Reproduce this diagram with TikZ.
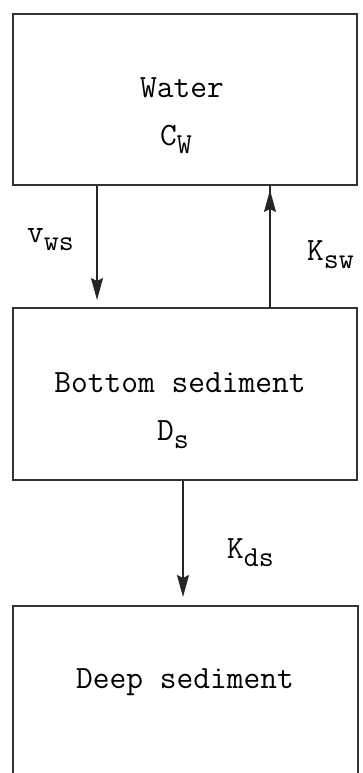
\documentclass[tikz,border=0pt]{standalone}
\usetikzlibrary{arrows.meta}

% subscript set in typewriter type, lowered below the baseline
\newcommand{\lowsub}[1]{\raisebox{-8pt}{\fontsize{29}{33}\selectfont\ttfamily #1}}

\begin{document}
\begin{tikzpicture}[x=1pt,y=1pt,
  compartment/.style={draw=black!80, line width=2pt, inner sep=0pt,
    minimum width=344pt, anchor=north west},
  lbl/.style={inner sep=0pt, anchor=base, font=\fontsize{32.5}{37}\selectfont\ttfamily},
  flow/.style={draw=black!85, line width=1.7pt,
    -{Stealth[length=22pt,width=12pt,inset=3pt]}}
]
\useasboundingbox (0,0) rectangle (363,-773);

% compartments
\node[compartment, minimum height=171pt] (water)  at (12,-13)  {};
\node[compartment, minimum height=172pt] (bottom) at (12,-307) {};
\node[compartment, minimum height=200pt, minimum width=345pt] (deep) at (12,-605) {};

% compartment labels
\node[lbl] (wname)  at (182,-98)  {Water};
\node[lbl] (wconc)  at (176,-145) {C\lowsub{W}};
\node[lbl] (bname)  at (180,-392) {Bottom sediment};
\node[lbl] (bconc)  at (173,-440) {D\lowsub{s}};
\node[lbl] (dname)  at (185,-688) {Deep sediment};

% exchange fluxes
\coordinate (wsA) at ([xshift=85pt]water.south west);
\coordinate (wsB) at ([xshift=85pt,yshift=7pt]bottom.north west);
\draw[flow] (wsA) -- (wsB);

\coordinate (swA) at ([xshift=258pt]bottom.north west);
\coordinate (swB) at ([xshift=258pt]water.south west);
\draw[draw=black!85, line width=1.7pt] (swA) -- (swB);
\draw[flow] (swA) -- ([yshift=-4pt]swB);

\coordinate (dsA) at ([xshift=171pt]bottom.south west);
\coordinate (dsB) at ([xshift=171pt,yshift=8pt]deep.north west);
\draw[flow] (dsA) -- (dsB);

% flux labels
\node[lbl, anchor=base west] (vws) at (27,-242)  {v\lowsub{ws}};
\node[lbl, anchor=base west] (ksw) at (307,-260) {K\lowsub{sw}};
\node[lbl, anchor=base west] (kds) at (227,-558) {K\lowsub{ds}};
\end{tikzpicture}
\end{document}
